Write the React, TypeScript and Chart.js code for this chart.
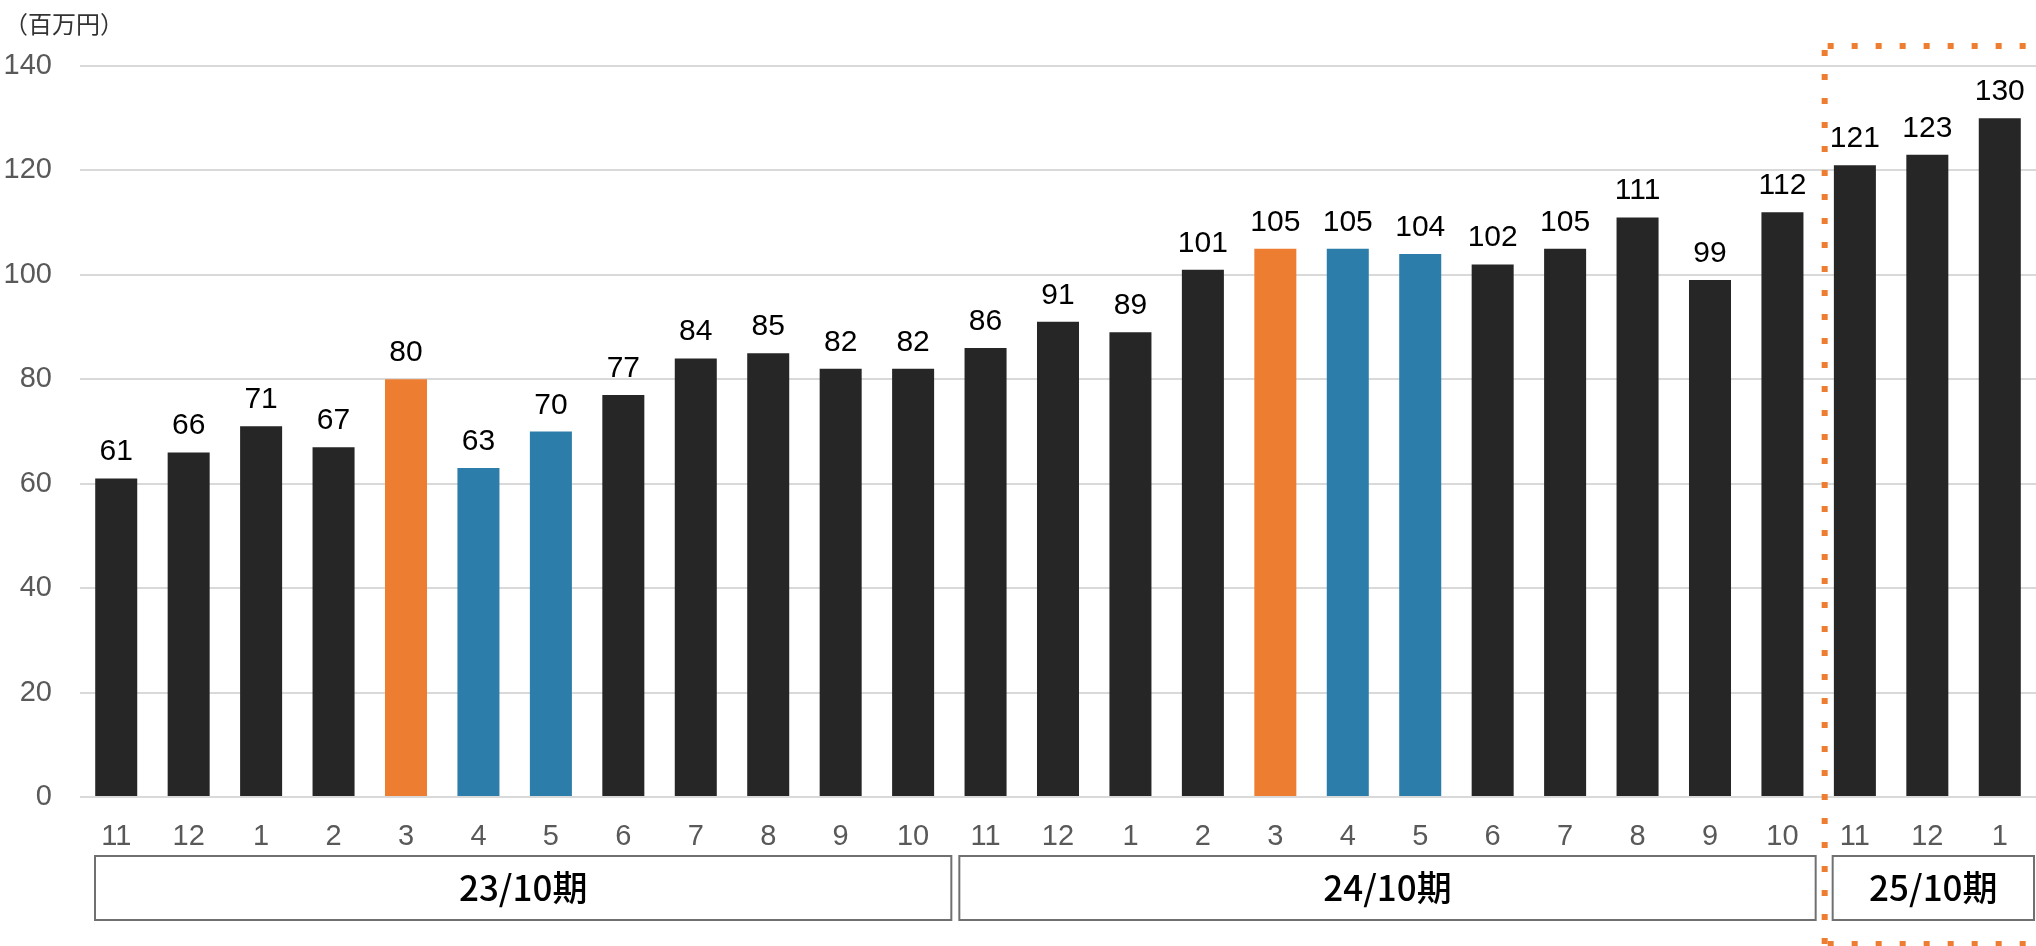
import React, { useEffect, useRef } from "react";
import { Chart, registerables } from "chart.js";

Chart.register(...registerables);

const monthLabels = ["11","12","1","2","3","4","5","6","7","8","9","10","11","12","1","2","3","4","5","6","7","8","9","10","11","12","1"];
const salesValues = [61,66,71,67,80,63,70,77,84,85,82,82,86,91,89,101,105,105,104,102,105,111,99,112,121,123,130];
const highlightOrange = [4, 16];
const highlightBlue = [5, 6, 17, 18];
const groupLabels = ["23/10期", "24/10期", "25/10期"];
const groupStarts = [0, 12, 24];
const groupEnds = [11, 23, 26];
const yTicksMax = 140;
const yTickStep = 20;
const unitLabel = "（百万円）";

const DARK = "#262626";
const ORANGE = "#ED7D31";
const BLUE = "#2C7DA9";

const barColors = salesValues.map((_, i) =>
  highlightOrange.includes(i) ? ORANGE : highlightBlue.includes(i) ? BLUE : DARK
);

const overlayPlugin = {
  id: "overlay",
  afterDatasetsDraw(chart: any) {
    const ctx = chart.ctx;
    const meta = chart.getDatasetMeta(0);
    ctx.save();
    ctx.fillStyle = "#000";
    ctx.font = "30px 'Liberation Sans', Arial, sans-serif";
    ctx.textAlign = "center";
    ctx.textBaseline = "alphabetic";
    meta.data.forEach((bar: any, i: number) => {
      ctx.fillText(String(salesValues[i]), bar.x, bar.y - 18);
    });
    ctx.restore();
  },
  afterDraw(chart: any) {
    const ctx = chart.ctx;
    const x = chart.scales.x;
    const step = x.getPixelForValue(1) - x.getPixelForValue(0);
    const boundary = (i: number) => x.getPixelForValue(i) - step / 2;
    ctx.save();
    ctx.fillStyle = "#333";
    ctx.font = "24px 'Noto Sans CJK JP', sans-serif";
    ctx.textAlign = "left";
    ctx.textBaseline = "alphabetic";
    ctx.fillText(unitLabel, 4, 33);

    const leftOff = [15, 10, 14];
    const rightOff = [2, -3, -2];
    const top = 856;
    const bottom = 920;
    groupLabels.forEach((lab, g) => {
      const l = boundary(groupStarts[g]) + leftOff[g];
      const r = boundary(groupEnds[g] + 1) + rightOff[g];
      ctx.strokeStyle = "#707070";
      ctx.lineWidth = 2;
      ctx.strokeRect(l, top, r - l, bottom - top);
      ctx.fillStyle = "#000";
      ctx.font = "500 35px 'Noto Sans CJK JP', sans-serif";
      ctx.textAlign = "center";
      ctx.textBaseline = "middle";
      ctx.fillText(lab, (l + r) / 2, (top + bottom) / 2);
    });

    const bx = boundary(groupStarts[2]) + 6;
    ctx.strokeStyle = ORANGE;
    ctx.lineWidth = 6;
    ctx.setLineDash([6, 18]);
    ctx.lineCap = "butt";
    ctx.beginPath();
    ctx.moveTo(bx, 50);
    ctx.lineTo(bx, 946);
    ctx.stroke();
    ctx.beginPath();
    ctx.moveTo(bx + 3, 46);
    ctx.lineTo(2040, 46);
    ctx.stroke();
    ctx.beginPath();
    ctx.moveTo(bx + 3, 944);
    ctx.lineTo(2040, 944);
    ctx.stroke();
    ctx.restore();
  },
};

export default function App() {
  const ref = useRef<HTMLCanvasElement | null>(null);
  useEffect(() => {
    document.body.style.margin = "0";
    const canvas = ref.current!;
    const chart = new Chart(canvas, {
      type: "bar",
      data: {
        labels: monthLabels,
        datasets: [
          {
            data: salesValues,
            backgroundColor: barColors,
            barPercentage: 0.58,
            categoryPercentage: 1,
          },
        ],
      },
      options: {
        responsive: false,
        animation: false,
        devicePixelRatio: 1,
        layout: { padding: { top: 66, right: 0, left: 0, bottom: 0 } },
        plugins: { legend: { display: false }, tooltip: { enabled: false } },
        scales: {
          x: {
            grid: { display: false },
            border: { display: false },
            ticks: {
              color: "#595959",
              font: { size: 29, family: "'Liberation Sans', Arial, sans-serif" },
              padding: 15,
              maxRotation: 0,
              autoSkip: false,
            },
            afterFit: (s: any) => { s.height = 149; },
          },
          y: {
            min: 0,
            max: yTicksMax,
            ticks: {
              stepSize: yTickStep,
              color: "#595959",
              font: { size: 29, family: "'Liberation Sans', Arial, sans-serif" },
              padding: 28,
            },
            grid: { color: "#D9D9D9", lineWidth: 2, drawTicks: false },
            border: { display: false },
            afterFit: (s: any) => { s.width = 80; },
          },
        },
      },
      plugins: [overlayPlugin],
    });
    return () => chart.destroy();
  }, []);
  return <canvas ref={ref} width={2036} height={946} style={{ display: "block" }} />;
}
